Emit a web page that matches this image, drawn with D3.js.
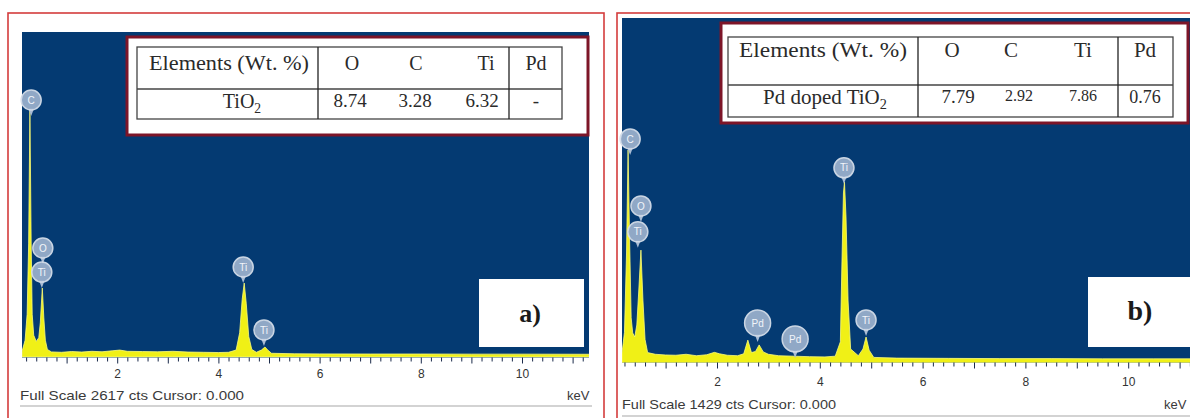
<!DOCTYPE html>
<html lang="en">
<head>
<meta charset="UTF-8">
<title>EDS spectra - TiO2 and Pd doped TiO2</title>
<script src="https://d3js.org/d3.v7.min.js"></script>
<style>
  body { margin: 0; background: #fff; }
  svg { display: block; }
  .axis text { font-family: "Liberation Sans", Arial, sans-serif; font-size: 12px; fill: #333; }
  .axis line { stroke: #1b2b4b; }
  .axis path { display: none; }
  .foot { font-family: "Liberation Sans", Arial, sans-serif; font-size: 13px; fill: #3a3a3a; }
  .tbl text { font-family: "Liberation Serif", "Times New Roman", serif; fill: #2a2a2a; }
  .pin text { font-family: "Liberation Sans", Arial, sans-serif; font-size: 10px; fill: #f2f5fa; }
</style>
</head>
<body>
<svg width="1190" height="418"></svg>
<script>
// ---- a) TiO2 spectrum (keV, counts), full scale 2617 cts
const fullScaleA = 2617;
const keVA = [0.12, 0.18, 0.22, 0.25, 0.275, 0.30, 0.32, 0.35, 0.40, 0.45, 0.48, 0.52, 0.55, 0.58, 0.62,
  0.70, 0.90, 1.10, 1.30, 1.50, 1.70, 1.90, 2.05, 2.20, 2.50, 2.80, 3.10, 3.40, 3.70, 4.00, 4.20,
  4.35, 4.42, 4.47, 4.51, 4.55, 4.60, 4.66, 4.75, 4.85, 4.92, 4.98, 5.05, 5.50, 6.00, 7.00, 8.00, 9.00, 10.00, 11.40];
const ctsA = [30, 120, 330, 900, 1985, 900, 330, 160, 110, 140, 260, 543, 300, 120, 45,
  25, 22, 28, 24, 30, 26, 34, 40, 30, 28, 26, 30, 24, 22, 20, 22,
  40, 180, 450, 583, 420, 150, 45, 22, 40, 65, 38, 14, 10, 9, 8, 8, 7, 7, 6];
const labelElA = ["C", "O", "Ti", "Ti", "Ti"];
const labelKeVA = [0.30, 0.53, 0.51, 4.49, 4.90];
const labelCtsA = [2066, 867, 672, 713, 203];

// ---- b) Pd doped TiO2 spectrum, full scale 1429 cts
const fullScaleB = 1429;
const keVB = [0.15, 0.20, 0.24, 0.27, 0.30, 0.33, 0.36, 0.40, 0.44, 0.48, 0.52, 0.56, 0.60, 0.65,
  0.80, 1.00, 1.20, 1.40, 1.60, 1.80, 1.95, 2.05, 2.20, 2.40, 2.52, 2.60, 2.67, 2.75, 2.82, 2.90, 3.00,
  3.20, 3.50, 3.80, 4.10, 4.30, 4.40, 4.43, 4.46, 4.48, 4.51, 4.55, 4.60, 4.75, 4.84, 4.90, 4.96, 5.05,
  5.50, 6.50, 7.50, 8.50, 9.50, 10.50, 11.30];
const ctsB = [30, 120, 450, 879, 500, 180, 117, 100, 150, 300, 462, 250, 90, 35,
  28, 25, 24, 28, 22, 26, 36, 30, 24, 22, 30, 87, 35, 40, 67, 38, 28,
  22, 20, 18, 17, 20, 80, 400, 700, 746, 600, 250, 50, 22, 50, 100, 45, 15,
  12, 11, 10, 10, 9, 9, 9];
const labelElB = ["C", "O", "Ti", "Ti", "Pd", "Pd", "Ti"];
const labelKeVB = [0.31, 0.52, 0.46, 4.47, 2.79, 3.52, 4.90];
const labelCtsB = [925, 646, 538, 805, 158, 92, 171];

// ---- tables
const tableHeader = ["Elements (Wt. %)", "O", "C", "Ti", "Pd"];
const rowA = ["TiO₂", "8.74", "3.28", "6.32", "-"];
const rowB = ["Pd doped TiO₂", "7.79", "2.92", "7.86", "0.76"];

const majorTicks = [1, 2, 3, 4, 5, 6, 7, 8, 9, 10, 11];
const tickLabels = [2, 4, 6, 8, 10];
const minorTicks = d3.range(1, 57).map(i => +(i * 0.2).toFixed(1)).filter(v => v % 1 !== 0);

const svg = d3.select("svg");

const panels = [
  {
    keV: keVA, cts: ctsA, full: fullScaleA, tag: "a)",
    lEl: labelElA, lKeV: labelKeVA, lCts: labelCtsA, header: tableHeader, row: rowA,
    border: [8, 13, 596, 430], plot: { x0: 22, x1: 589, top: 32, base: 355 },
    x0px: 16, pxPerKeV: 50.6, axisY: 357.5, labelPad: 12,
    foot: { x: 20, y: 400, w: 224, kx: 567, line: 406, lx1: 20, lx2: 592 },
    tagBox: [479, 279, 105, 68], tagText: [530, 322], tagSize: 26,
    tbl: { box: [127, 37, 461, 98], gx: [137, 562], gy: [47, 119], rowDiv: 89, cols: [318, 509],
      hy: 63, ry: 101, hx: [229, 352, 416, 486, 536], rx: [242, 350, 415, 482, 536],
      fh: 20, fv: [19, 19, 19, 19], elemW: 160 }
  },
  {
    keV: keVB, cts: ctsB, full: fullScaleB, tag: "b)",
    lEl: labelElB, lKeV: labelKeVB, lCts: labelCtsB, header: tableHeader, row: rowB,
    border: [617, 13, 620, 430], plot: { x0: 622, x1: 1190, top: 18, base: 361 },
    x0px: 614.2, pxPerKeV: 51.4, axisY: 362.5, labelPad: 15,
    foot: { x: 622, y: 409, w: 214, kx: 1164, line: 416, lx1: 622, lx2: 1190 },
    tagBox: [1088, 277, 112, 70], tagText: [1140, 320], tagSize: 28,
    tbl: { box: [721, 23, 467, 100], gx: [728, 1173], gy: [37, 117], rowDiv: 85, cols: [918, 1118],
      hy: 50, ry: 97, hx: [823, 952, 1011, 1083, 1145], rx: [825, 958, 1019, 1083, 1145],
      fh: 21, fv: [19, 16, 16, 18], elemW: 168 }
  }
];

// writes "TiO₂" style strings with a real subscript
function subText(sel, s, size) {
  if (s.endsWith("₂")) {
    sel.text(s.slice(0, -1));
    sel.append("tspan").attr("dy", size * 0.25).attr("font-size", size * 0.68).text("2");
  } else {
    sel.text(s);
  }
}

panels.forEach((p, pi) => {
  const g = svg.append("g");
  const x = d3.scaleLinear().domain([0, 11]).range([p.x0px, p.x0px + 11 * p.pxPerKeV]);
  const y = d3.scaleLinear().domain([0, p.full]).range([p.plot.base, p.plot.top]);

  // outer red frame
  g.append("rect")
    .attr("x", p.border[0]).attr("y", p.border[1])
    .attr("width", p.border[2]).attr("height", p.border[3])
    .attr("fill", "none").attr("stroke", "#d43c3c").attr("stroke-width", 1.6);

  // blue plot background
  g.append("rect")
    .attr("x", p.plot.x0).attr("y", p.plot.top)
    .attr("width", p.plot.x1 - p.plot.x0).attr("height", p.axisY - p.plot.top)
    .attr("fill", "#043a72");

  const clipId = "clip" + pi;
  g.append("clipPath").attr("id", clipId).append("rect")
    .attr("x", p.plot.x0).attr("y", p.plot.top)
    .attr("width", p.plot.x1 - p.plot.x0).attr("height", p.axisY - p.plot.top);

  const pts = p.keV.map((k, i) => [k, p.cts[i]]);
  const area = d3.area().x(d => x(d[0])).y0(y(0) + 2).y1(d => y(d[1]));
  g.append("path").datum(pts)
    .attr("clip-path", `url(#${clipId})`)
    .attr("d", area)
    .attr("fill", "#f0f016")
    .attr("stroke", "#fbfb7a").attr("stroke-width", 0.8);

  // peak label pins
  p.lEl.forEach((el, i) => {
    const r = el === "Pd" ? 13 : 10;
    const pin = g.append("g").attr("class", "pin")
      .attr("transform", `translate(${x(p.lKeV[i])},${y(p.lCts[i])})`);
    pin.append("path").attr("d", `M-3,${r - 2} L0,${r + 6} L3,${r - 2}Z`)
      .attr("fill", "#a9bcd4");
    pin.append("circle").attr("r", r)
      .attr("fill", "#98aecb").attr("stroke", "#d5deea").attr("stroke-width", 1.5).attr("opacity", 0.95);
    pin.append("text").attr("text-anchor", "middle").attr("dy", "0.36em")
      .attr("font-size", el === "Pd" ? 11 : 10).text(el);
  });

  // energy axis
  g.append("g").attr("class", "axis")
    .attr("transform", `translate(0,${p.axisY})`)
    .call(d3.axisBottom(x).tickValues(minorTicks).tickSize(4).tickFormat(""));
  g.append("g").attr("class", "axis")
    .attr("transform", `translate(0,${p.axisY})`)
    .call(d3.axisBottom(x).tickValues(majorTicks).tickSize(6).tickFormat(""));
  g.append("g").attr("class", "axis")
    .attr("transform", `translate(0,${p.axisY})`)
    .call(d3.axisBottom(x).tickValues(tickLabels).tickSize(0).tickPadding(p.labelPad).tickFormat(d3.format("d")));

  // footer
  g.append("text").attr("class", "foot")
    .attr("x", p.foot.x).attr("y", p.foot.y)
    .attr("textLength", p.foot.w).attr("lengthAdjust", "spacingAndGlyphs")
    .text(`Full Scale ${p.full} cts Cursor: 0.000`);
  g.append("text").attr("class", "foot")
    .attr("x", p.foot.kx).attr("y", p.foot.y).text("keV");
  g.append("line")
    .attr("x1", p.foot.lx1).attr("x2", p.foot.lx2)
    .attr("y1", p.foot.line).attr("y2", p.foot.line)
    .attr("stroke", "#a8a8a8").attr("stroke-width", 1.2);

  // panel tag
  g.append("rect")
    .attr("x", p.tagBox[0]).attr("y", p.tagBox[1])
    .attr("width", p.tagBox[2]).attr("height", p.tagBox[3])
    .attr("fill", "#fff");
  g.append("text")
    .attr("x", p.tagText[0]).attr("y", p.tagText[1])
    .attr("text-anchor", "middle")
    .attr("font-family", "'Liberation Serif', serif").attr("font-weight", "bold")
    .attr("font-size", p.tagSize).attr("fill", "#1a1a1a")
    .text(p.tag);

  // composition table
  const t = p.tbl;
  const tg = g.append("g").attr("class", "tbl");
  tg.append("rect")
    .attr("x", t.box[0]).attr("y", t.box[1]).attr("width", t.box[2]).attr("height", t.box[3])
    .attr("fill", "#fff").attr("stroke", "#7d1528").attr("stroke-width", 3);
  tg.append("rect")
    .attr("x", t.gx[0]).attr("y", t.gy[0])
    .attr("width", t.gx[1] - t.gx[0]).attr("height", t.gy[1] - t.gy[0])
    .attr("fill", "none").attr("stroke", "#444").attr("stroke-width", 1.3);
  tg.append("line").attr("x1", t.gx[0]).attr("x2", t.gx[1])
    .attr("y1", t.rowDiv).attr("y2", t.rowDiv).attr("stroke", "#444").attr("stroke-width", 1.3);
  t.cols.forEach(cx => tg.append("line").attr("x1", cx).attr("x2", cx)
    .attr("y1", t.gy[0]).attr("y2", t.gy[1]).attr("stroke", "#222").attr("stroke-width", 1.3));

  p.header.forEach((h, i) => {
    const tx = tg.append("text").attr("x", t.hx[i]).attr("y", t.hy + t.fh * 0.34)
      .attr("text-anchor", "middle").attr("font-size", t.fh).text(h);
    if (i === 0) tx.attr("textLength", t.elemW).attr("lengthAdjust", "spacingAndGlyphs");
  });
  p.row.forEach((v, i) => {
    const fs = i === 0 ? t.fh : t.fv[i - 1];
    const tx = tg.append("text").attr("x", t.rx[i]).attr("y", t.ry + fs * 0.34 - (i > 0 ? (19 - fs) * 0.4 : 0))
      .attr("text-anchor", "middle").attr("font-size", fs);
    subText(tx, v, fs);
  });
});
</script>
</body>
</html>
